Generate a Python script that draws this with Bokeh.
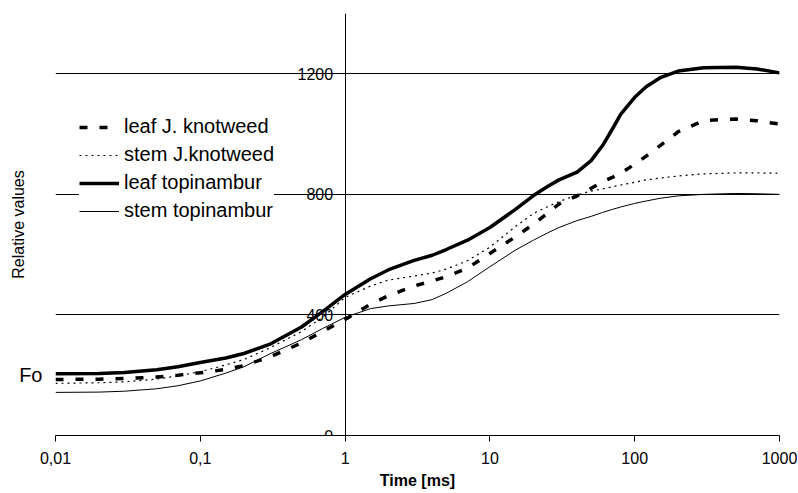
from bokeh.plotting import figure
from bokeh.models import (Range1d, FixedTicker, LinearAxis, CustomJSTickFormatter,
                          Legend, LegendItem)
from bokeh.embed import file_html
from bokeh.resources import INLINE

# ---- data ----
time_ms = [0.01, 0.02, 0.03, 0.05, 0.07, 0.1, 0.15, 0.2, 0.3, 0.5, 0.7, 1, 1.5, 2, 3, 4,
           5, 7, 10, 15, 20, 25, 30, 40, 50, 60, 70, 80, 100, 120, 150, 200, 300, 500,
           700, 1000]
leaf_jk = [186, 187, 189, 194, 200, 208, 219, 232, 260, 307, 345, 385, 436, 464, 496, 513,
           527, 555, 604, 659, 701, 737, 768, 795, 820, 842, 856, 870, 900, 927, 962, 1008,
           1045, 1050, 1044, 1033]
stem_jk = [173, 175, 178, 187, 198, 212, 234, 252, 290, 345, 392, 458, 496, 516, 529, 539,
           552, 580, 625, 693, 737, 759, 776, 798, 811, 818, 825, 831, 840, 848, 854, 861,
           868, 871, 871, 870]
leaf_topi = [205, 206, 209, 218, 228, 242, 257, 272, 302, 360, 411, 468, 520, 550, 581, 598,
             617, 648, 690, 750, 796, 826, 848, 874, 912, 962, 1016, 1065, 1122, 1157, 1187,
             1209, 1220, 1222, 1216, 1203]
stem_topi = [143, 144, 147, 155, 165, 181, 207, 228, 270, 318, 355, 392, 421, 430, 438, 451,
             472, 510, 560, 615, 648, 672, 690, 713, 727, 740, 750, 758, 770, 778, 787, 795,
             800, 803, 802, 800]

x_ticks = [0.01, 0.1, 1, 10, 100, 1000]
y_ticks = [0, 400, 800, 1200]
grid_ticks = [400, 800, 1200]
fo_level = [200]
series_names = ["leaf J. knotweed", "stem J.knotweed", "leaf topinambur", "stem topinambur"]

FONT = "Liberation Sans"

p = figure(width=798, height=493, x_axis_type="log",
           x_range=Range1d(0.01, 1000), y_range=Range1d(0, 1400),
           output_backend="svg", toolbar_location=None,
           min_border_left=55, min_border_right=19, min_border_top=13, min_border_bottom=58)
p.outline_line_color = None
p.background_fill_color = "white"
p.border_fill_color = "white"

# x axis
xa = p.xaxis[0]
xa.ticker = FixedTicker(ticks=x_ticks, minor_ticks=[])
xa.formatter = CustomJSTickFormatter(code="return String(tick).replace('.', ',')")
xa.axis_label = "Time [ms]"
xa.axis_label_text_font = FONT
xa.axis_label_text_font_style = "bold"
xa.axis_label_text_font_size = "16px"
xa.axis_label_standoff = 5
xa.major_label_text_font = FONT
xa.major_label_text_font_size = "16px"
xa.major_label_standoff = 10
xa.major_tick_out = 6
xa.major_tick_in = 0
xa.axis_line_color = "black"
xa.major_tick_line_color = "black"
xa.major_label_text_color = "black"
xa.axis_label_text_color = "black"

# main y axis located at x = 1
ya = p.yaxis[0]
ya.ticker = FixedTicker(ticks=y_ticks, minor_ticks=[])
ya.fixed_location = 1
ya.major_tick_out = 7
ya.major_tick_in = 0
ya.major_label_standoff = 5
ya.major_label_text_font = FONT
ya.major_label_text_font_size = "16px"
ya.major_label_text_color = "black"
ya.axis_line_color = "black"
ya.major_tick_line_color = "black"

# left axis carrying "Fo" and the title
fo_axis = LinearAxis(ticker=FixedTicker(ticks=fo_level, minor_ticks=[]),
                     formatter=CustomJSTickFormatter(code="return 'Fo'"))
fo_axis.axis_line_color = None
fo_axis.major_tick_line_color = None
fo_axis.major_tick_out = 0
fo_axis.major_tick_in = 0
fo_axis.major_label_standoff = 13
fo_axis.major_label_text_font = FONT
fo_axis.major_label_text_font_size = "20px"
fo_axis.major_label_text_color = "black"
fo_axis.axis_label = "Relative values"
fo_axis.axis_label_text_font = FONT
fo_axis.axis_label_text_font_style = "normal"
fo_axis.axis_label_text_font_size = "16px"
fo_axis.axis_label_text_color = "black"
fo_axis.axis_label_standoff = -11
p.add_layout(fo_axis, "left")

# grid
p.xgrid.visible = False
p.ygrid.ticker = FixedTicker(ticks=grid_ticks, minor_ticks=[])
p.ygrid.grid_line_color = "black"
p.ygrid.grid_line_width = 1
p.ygrid.grid_line_alpha = 1

r1 = p.line(time_ms, leaf_jk, line_color="black", line_width=3.5, line_dash="8 12")
r2 = p.line(time_ms, stem_jk, line_color="black", line_width=1.2, line_dash="2 4")
r3 = p.line(time_ms, leaf_topi, line_color="black", line_width=3.5, line_join="round")
r4 = p.line(time_ms, stem_topi, line_color="black", line_width=1, line_join="round")

legend = Legend(items=[LegendItem(label=series_names[0], renderers=[r1]),
                       LegendItem(label=series_names[1], renderers=[r2]),
                       LegendItem(label=series_names[2], renderers=[r3]),
                       LegendItem(label=series_names[3], renderers=[r4])],
                location=(24, 213))
legend.label_text_font = FONT
legend.label_text_font_size = "20px"
legend.label_text_color = "black"
legend.glyph_width = 40
legend.glyph_height = 20
legend.label_height = 20
legend.label_standoff = 5
legend.spacing = 5
legend.padding = 5
legend.margin = 0
legend.border_line_color = None
legend.background_fill_color = "white"
legend.background_fill_alpha = 1
p.add_layout(legend, "center")

open("out.html", "w").write(file_html(p, INLINE))
